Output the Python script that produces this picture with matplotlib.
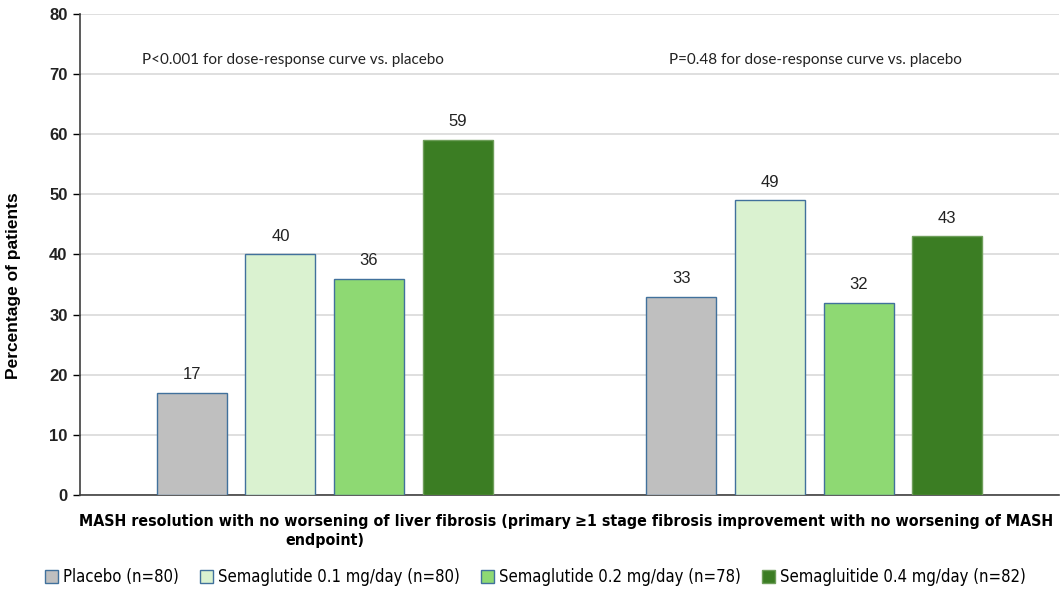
import matplotlib
matplotlib.use("Agg")
import matplotlib.pyplot as plt
import numpy as np

categories = [
    "MASH resolution with no worsening of liver fibrosis (primary\nendpoint)",
    "\u22651 stage fibrosis improvement with no worsening of MASH",
]
series = [
    "Placebo (n=80)",
    "Semaglutide 0.1 mg/day (n=80)",
    "Semaglutide 0.2 mg/day (n=78)",
    "Semagluitide 0.4 mg/day (n=82)",
]
values = [
    [17, 33],
    [40, 49],
    [36, 32],
    [59, 43],
]
p_notes = [
    "P<0.001 for dose-response curve vs. placebo",
    "P=0.48 for dose-response curve vs. placebo",
]

COLORS = ["#BFBFBF", "#DAF2D0", "#8ED973", "#3B7D23"]
EDGES = ["#41719C", "#41719C", "#41719C", "#6E9E5A"]
SANS = ["Liberation Sans", "DejaVu Sans"]

fig = plt.figure(figsize=(10.6, 5.91), dpi=100)
ax = fig.add_axes([0.0755, 0.1624, 0.9235, 0.814])

x = np.arange(len(categories))
w = 0.143
step = 0.181
for i, (name, vals) in enumerate(zip(series, values)):
    pos = x + (i - 1.5) * step
    bars = ax.bar(pos, vals, w, color=COLORS[i], edgecolor=EDGES[i], linewidth=1.0,
                  label=name, zorder=3)
    for b, v in zip(bars, vals):
        ax.text(b.get_x() + b.get_width() / 2, v + 1.8, f"{v}", ha="center", va="bottom",
                fontsize=12, family=SANS, color="#222222")

note_shift = [-0.064, 0.003]
for xi, dx, note in zip(x, note_shift, p_notes):
    ax.text(xi + dx, 72.3, note, ha="center", va="center", fontsize=11,
            family=["Lato", "DejaVu Sans"], color="#222222")

ax.set_xlim(-0.5, 1.5)
ax.set_ylim(0, 80)
ax.set_yticks(range(0, 81, 10))
ax.set_yticklabels([str(t) for t in range(0, 81, 10)], fontsize=12, family=SANS,
                   fontweight="bold", color="#222222")
ax.set_xticks(x)
ax.set_xticklabels(categories, fontsize=11.4, family="DejaVu Sans", fontstretch="condensed",
                   fontweight="bold", ha="center", linespacing=1.3)
ax.tick_params(axis="x", length=0, pad=14)
ax.tick_params(axis="y", length=5, width=1, direction="out", pad=4)
ax.set_ylabel("Percentage of patients", fontsize=12.5, family=SANS, fontweight="bold")
ax.yaxis.set_label_coords(-0.06, 0.435)
ax.yaxis.grid(True, color="#D9D9D9", linewidth=1.2, zorder=0)
ax.set_axisbelow(True)
for s in ("top", "right"):
    ax.spines[s].set_visible(False)
ax.spines["left"].set_color("#404040")
ax.spines["left"].set_linewidth(1.2)
ax.spines["bottom"].set_color("#404040")
ax.spines["bottom"].set_linewidth(1.2)

fig.legend(loc="lower center", bbox_to_anchor=(0.505, -0.017), ncol=4, frameon=False,
           prop={"family": "DejaVu Sans", "stretch": "condensed", "size": 12},
           handlelength=0.8, handleheight=0.8, handletextpad=0.3, columnspacing=1.25)

fig.savefig("out.png", dpi=100)
